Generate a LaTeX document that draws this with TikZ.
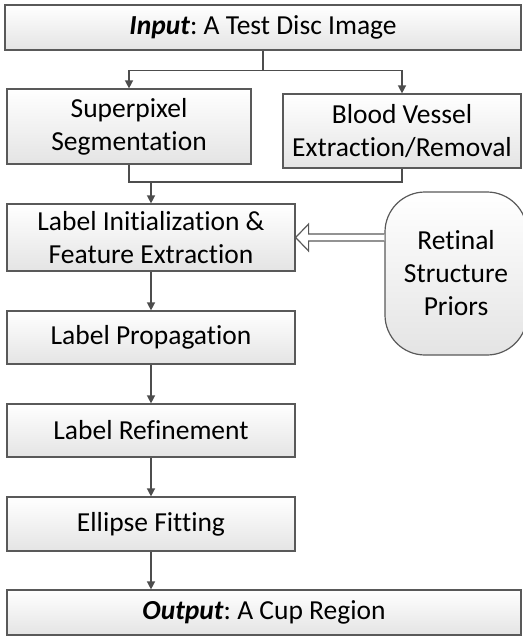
\documentclass[tikz,border=0pt]{standalone}
\usepackage{fontspec}
\setmainfont{Carlito}[RawFeature={-liga;-clig;-dlig;-calt}]
\usetikzlibrary{positioning,arrows.meta,calc}
\definecolor{edgegray}{HTML}{595959}
\definecolor{linegray}{HTML}{4D4D4D}
\definecolor{shadegray}{HTML}{E4E4E4}
\frenchspacing
\tikzset{
	stage/.style={draw=edgegray, line width=1.2pt, top color=white, bottom color=shadegray,
		align=center, inner sep=0pt, font=\fontsize{27.5}{33}\selectfont},
	link/.style={draw=linegray, line width=1.4pt, -{Triangle[length=8pt,width=8pt]}},
	wire/.style={draw=linegray, line width=1.4pt},
	hollow/.style={draw=edgegray, line width=1.2pt, fill=white},
}

\begin{document}
\begin{tikzpicture}[x=1pt,y=-1pt]
	\useasboundingbox (0,0) rectangle (522,637);
	\node[stage, minimum width=516pt, minimum height=45pt] (input) at (263,27.5) {\textbf{\textit{Input}}: A Test Disc Image};
	\node[stage, minimum width=244pt, minimum height=75pt] (seg) at (129,126.5) {Superpixel\\Segmentation};
	\node[stage, minimum width=238pt, minimum height=74pt] (vessel) at (402,131) {Blood Vessel\\Extraction/Removal};
	\node[stage, minimum width=288pt, minimum height=67pt] (init) at (151,237.5) {Label Initialization \&\\Feature Extraction};
	\node[stage, minimum width=142pt, minimum height=163pt, rounded corners=40pt] (priors) at (456,273.5) {Retinal\\Structure\\Priors};
	\node[stage, minimum width=288pt, minimum height=53pt] (prop) at (151,337.5) {Label Propagation};
	\node[stage, minimum width=288pt, minimum height=53pt] (refine) at (151,430.5) {Label Refinement};
	\node[stage, minimum width=288pt, minimum height=54pt] (fit) at (151,524) {Ellipse Fitting};
	\node[stage, minimum width=514pt, minimum height=45pt] (output) at (264,612.5) {\textbf{\textit{Output}}: A Cup Region};
	%
	\draw[wire] (input.south) -- ++(0,20) coordinate (split);
	\draw[link] (split) -| (seg.north);
	\draw[link] (split) -| (vessel.north);
	\draw[wire] (seg.south) -- (seg.south |- 0,182) coordinate (merge) -| (vessel.south);
	\draw[link] (init.north |- merge) -- (init.north);
	\draw[link] (init) -- (prop);
	\draw[link] (prop) -- (refine);
	\draw[link] (refine) -- (fit);
	\draw[link] (fit) -- (fit.south |- output.north);
	%
	\draw[hollow] ($(priors.west |- init.east)+(0,-3.5)$) -- ($(init.east)+(13,-3.5)$)
		-- ($(init.east)+(13,-13.5)$) -- (init.east) -- ($(init.east)+(13,13.5)$)
		-- ($(init.east)+(13,3.5)$) -- ($(priors.west |- init.east)+(0,3.5)$);
\end{tikzpicture}
\end{document}
